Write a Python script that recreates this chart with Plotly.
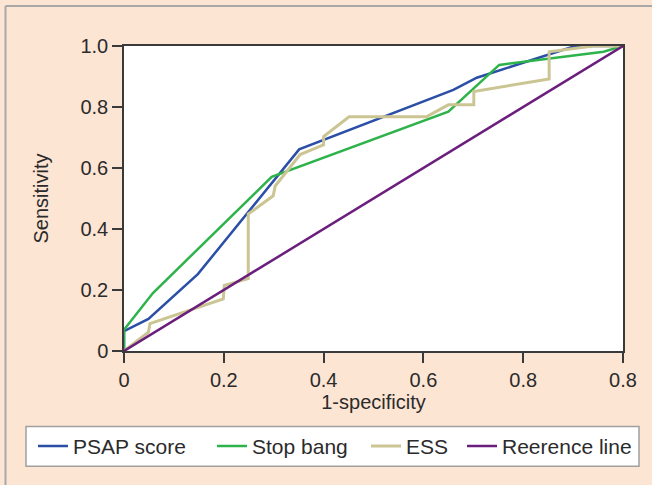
import plotly.graph_objects as go

# ROC data
psap_x = [0, 0, 0.049, 0.148, 0.351, 0.660, 0.707, 0.904, 1.0]
psap_y = [0, 0.065, 0.105, 0.252, 0.661, 0.856, 0.896, 1.0, 1.0]

stop_x = [0, 0, 0.058, 0.296, 0.650, 0.752, 0.961, 1.0]
stop_y = [0, 0.07, 0.19, 0.571, 0.785, 0.938, 0.981, 1.0]

ess_x = [0, 0.049, 0.052, 0.199, 0.201, 0.249, 0.249, 0.299, 0.303, 0.353, 0.400,
         0.400, 0.451, 0.606, 0.650, 0.701, 0.701, 0.852, 0.852, 0.940, 1.0]
ess_y = [0, 0.062, 0.090, 0.171, 0.215, 0.237, 0.449, 0.509, 0.541, 0.644, 0.676,
         0.703, 0.768, 0.768, 0.807, 0.807, 0.851, 0.892, 0.981, 1.0, 1.0]

ref_x = [0, 1]
ref_y = [0, 1]

series_names = ["PSAP score", "Stop bang", "ESS", "Reerence line"]

x_tickvals = [0, 0.2, 0.4, 0.6, 0.8, 1.0]
x_ticktext = ["0", "0.2", "0.4", "0.6", "0.8", "0.8"]
y_tickvals = [0, 0.2, 0.4, 0.6, 0.8, 1.0]
y_ticktext = ["0", "0.2", "0.4", "0.6", "0.8", "1.0"]

FONT = "Liberation Sans, Arial, sans-serif"
TXT = "#2b2b2b"
AX = "#3a3a3a"

# plot-area geometry in pixels (for placing legend entries / frame)
L, R, T, B = 124, 623, 46, 351.5
W, H = R - L, B - T


def px_x(p):
    return (p - L) / W


def px_y(p):
    return (B - p) / H


fig = go.Figure()
colors = ["#2b4ea6", "#2eb34b", "#cbc594", "#6b1f7c"]
widths = [2.5, 2.5, 3, 2.5]
xs = [psap_x, stop_x, ess_x, ref_x]
ys = [psap_y, stop_y, ess_y, ref_y]
legend_ids = ["legend", "legend2", "legend3", "legend4"]
for i in range(4):
    fig.add_trace(go.Scatter(x=xs[i], y=ys[i], mode="lines", name=series_names[i],
                             line=dict(color=colors[i], width=widths[i]),
                             legend=legend_ids[i]))

# legend entries (line sample start positions in px)
entry_px = [33, 212, 366, 462]
leg_common = dict(orientation="h", yanchor="middle", y=px_y(447), xanchor="left",
                  bgcolor="rgba(0,0,0,0)", borderwidth=0,
                  font=dict(family=FONT, size=21, color=TXT))
legends = {}
for lid, ex in zip(legend_ids, entry_px):
    legends[lid] = dict(leg_common, x=px_x(ex))

fig.update_layout(
    width=652, height=485,
    margin=dict(l=L, r=652 - R, t=T, b=485 - B, autoexpand=False),
    paper_bgcolor="#fde5d4",
    plot_bgcolor="white",
    font=dict(family=FONT, size=20, color=TXT),
    showlegend=True,
    xaxis=dict(
        range=[0, 1], tickvals=x_tickvals, ticktext=x_ticktext,
        showgrid=False, zeroline=False,
        showline=True, linecolor=AX, linewidth=1.5, mirror=True,
        ticks="outside", ticklen=10, tickwidth=1.5, tickcolor=AX,
        tickfont=dict(size=20, color=TXT),
        title=dict(text="1-specificity", font=dict(size=20, color=TXT), standoff=4),
    ),
    yaxis=dict(
        range=[0, 1], tickvals=y_tickvals, ticktext=y_ticktext,
        showgrid=False, zeroline=False,
        showline=True, linecolor=AX, linewidth=1.5, mirror=True,
        ticks="outside", ticklen=10, tickwidth=1.5, tickcolor=AX,
        tickfont=dict(size=20, color=TXT),
        title=dict(text="Sensitivity", font=dict(size=20, color=TXT), standoff=26),
    ),
    shapes=[
        dict(type="line", xref="paper", yref="paper", x0=px_x(5.5), x1=px_x(5.5),
             y0=px_y(6), y1=px_y(600), line=dict(color="#a8a8a8", width=2)),
        dict(type="line", xref="paper", yref="paper", x0=px_x(5.5), x1=px_x(800),
             y0=px_y(6), y1=px_y(6), line=dict(color="#a8a8a8", width=2)),
        dict(type="rect", xref="paper", yref="paper", x0=px_x(26), x1=px_x(639),
             y0=px_y(467), y1=px_y(427), fillcolor="white",
             line=dict(color="#a0a0a0", width=1.5)),
    ],
    **legends,
)

fig.write_html("out.html", config={"displayModeBar": False},
               post_script="document.body.style.margin='0';")
